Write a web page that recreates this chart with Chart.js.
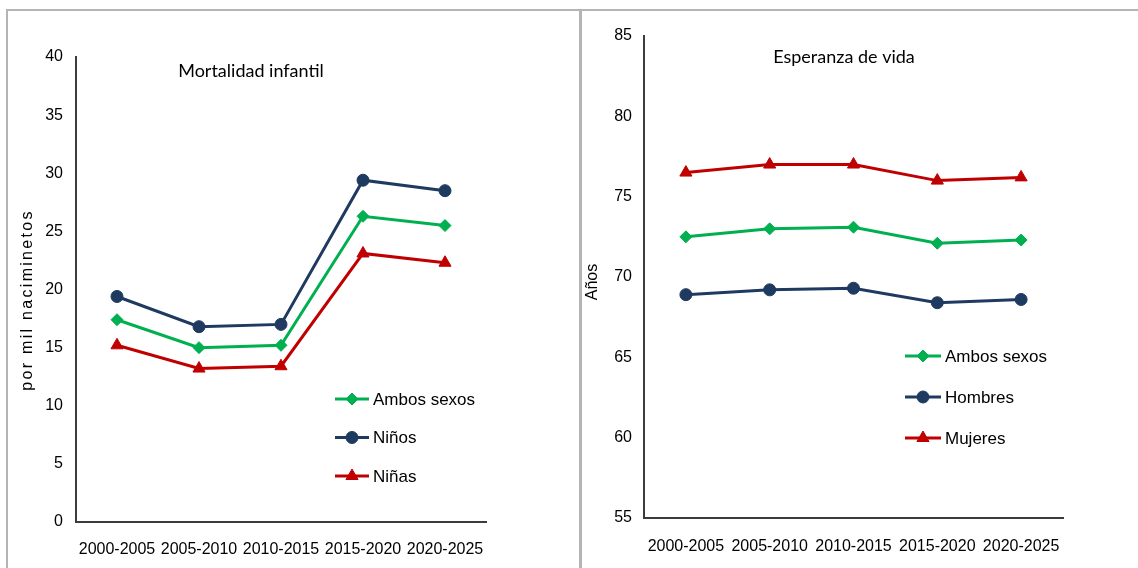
<!DOCTYPE html>
<html>
<head>
<meta charset="utf-8">
<script src="https://cdn.jsdelivr.net/npm/chart.js@4/dist/chart.umd.min.js"></script>
<style>
  body { margin: 0; background: #fff; width: 1138px; height: 568px; overflow: hidden; position: relative; }
  .panel { position: absolute; box-sizing: border-box; border: 2px solid #b4b4b4; }
  #leftPanel { left: 6px; top: 9px; width: 576px; height: 580px; }
  #rightPanel { left: 579px; top: 9px; width: 580px; height: 580px; }
  .box { position: absolute; }
  #leftBox { left: 8px; top: 11px; width: 570px; height: 557px; }
  #rightBox { left: 581px; top: 11px; width: 557px; height: 557px; }
</style>
</head>
<body>
<div class="panel" id="leftPanel"></div>
<div class="panel" id="rightPanel"></div>
<div class="box" id="leftBox"><canvas id="mortChart"></canvas></div>
<div class="box" id="rightBox"><canvas id="vidaChart"></canvas></div>
<script>
const periods = ['2000-2005', '2005-2010', '2010-2015', '2015-2020', '2020-2025'];

// Mortalidad infantil (por mil nacimientos)
const mortAmbos = [17.4, 15.0, 15.2, 26.3, 25.5];
const mortNinos = [19.4, 16.8, 17.0, 29.4, 28.5];
const mortNinas = [15.2, 13.2, 13.4, 23.1, 22.3];

// Esperanza de vida (años)
const vidaAmbos = [72.5, 73.0, 73.1, 72.1, 72.3];
const vidaHombres = [68.9, 69.2, 69.3, 68.4, 68.6];
const vidaMujeres = [76.5, 77.0, 77.0, 76.0, 76.2];

const GREEN = '#00b050';
const NAVY = '#1f3a60';
const RED = '#c00000';
const AXIS = '#3c3c3c';
const FONT = "'Liberation Sans', Arial, sans-serif";

function series(label, data, color, style, radius) {
    return {
        label: label,
        data: data,
        borderColor: color,
        backgroundColor: color,
        pointBackgroundColor: color,
        pointBorderColor: color,
        borderWidth: 3,
        pointStyle: style,
        pointRadius: radius,
        pointBorderWidth: 1,
        tension: 0
    };
}

// titles, axis title and line+marker legend drawn from the datasets
const panelText = {
    id: 'panelText',
    afterDraw(chart, args, opts) {
        const ctx = chart.ctx;
        ctx.save();
        ctx.fillStyle = '#000';
        ctx.textAlign = 'center';
        ctx.textBaseline = 'middle';
        ctx.font = opts.titleFont;
        ctx.fillText(opts.title, opts.titleX, opts.titleY);

        ctx.save();
        ctx.translate(opts.yTitleX, opts.yTitleY);
        ctx.rotate(-Math.PI / 2);
        ctx.font = '16px ' + FONT;
        ctx.letterSpacing = opts.yTitleSpacing || '0px';
        ctx.fillText(opts.yTitle, 0, 0);
        ctx.restore();

        ctx.font = '17px ' + FONT;
        ctx.textAlign = 'left';
        chart.data.datasets.forEach((ds, i) => {
            const y = opts.legendY + i * opts.legendGap;
            ctx.strokeStyle = ds.borderColor;
            ctx.lineWidth = ds.borderWidth;
            ctx.beginPath();
            ctx.moveTo(opts.legendX1, y);
            ctx.lineTo(opts.legendX2, y);
            ctx.stroke();
            ctx.fillStyle = ds.pointBackgroundColor;
            ctx.lineWidth = 1;
            Chart.helpers.drawPoint(ctx, {
                pointStyle: ds.pointStyle, radius: ds.pointRadius, rotation: 0, borderWidth: 1
            }, (opts.legendX1 + opts.legendX2) / 2, y);
            ctx.fillStyle = '#000';
            ctx.fillText(ds.label, opts.legendX2 + 4, y + 1);
        });
        ctx.restore();
    }
};

function makeChart(id, datasets, yMin, yMax, layout, text) {
    return new Chart(document.getElementById(id), {
        type: 'line',
        data: { labels: periods, datasets: datasets },
        plugins: [panelText],
        options: {
            responsive: true,
            maintainAspectRatio: false,
            animation: false,
            layout: { padding: layout.padding },
            plugins: {
                legend: { display: false },
                tooltip: { enabled: false },
                panelText: text
            },
            scales: {
                x: {
                    offset: true,
                    grid: { display: false },
                    border: { display: true, color: AXIS, width: 2 },
                    ticks: { color: '#000', font: { family: FONT, size: 16 }, padding: layout.xPad, maxRotation: 0 },
                    afterFit: s => { s.height = layout.xHeight; }
                },
                y: {
                    min: yMin,
                    max: yMax,
                    grid: { display: false },
                    border: { display: true, color: AXIS, width: 2 },
                    ticks: { stepSize: 5, color: '#000', font: { family: FONT, size: 16 }, padding: layout.yPad },
                    afterFit: s => { s.width = layout.yWidth; }
                }
            }
        }
    });
}

makeChart('mortChart', [
    series('Ambos sexos', mortAmbos, GREEN, 'rectRot', 6),
    series('Niños', mortNinos, NAVY, 'circle', 6),
    series('Niñas', mortNinas, RED, 'triangle', 7)
], 0, 40,
    { padding: { left: 0, top: 46, right: 92, bottom: 0 }, xHeight: 46, yWidth: 68, xPad: 10, yPad: 5 },
    {
        title: 'Mortalidad infantil', titleFont: "18px 'Liberation Sans Narrow', Lato, sans-serif",
        titleX: 243, titleY: 60,
        yTitle: 'por mil naciminetos', yTitleX: 20, yTitleY: 289, yTitleSpacing: '2.3px',
        legendX1: 327, legendX2: 361, legendY: 388, legendGap: 38.5
    });

makeChart('vidaChart', [
    series('Ambos sexos', vidaAmbos, GREEN, 'rectRot', 6),
    series('Hombres', vidaHombres, NAVY, 'circle', 6),
    series('Mujeres', vidaMujeres, RED, 'triangle', 7)
], 55, 85,
    { padding: { left: 0, top: 25, right: 75, bottom: 0 }, xHeight: 50, yWidth: 63, xPad: 11, yPad: 4 },
    {
        title: 'Esperanza de vida', titleFont: "18px 'Liberation Sans Narrow', Lato, sans-serif",
        titleX: 263, titleY: 46,
        yTitle: 'Años', yTitleX: 12, yTitleY: 271,
        legendX1: 324, legendX2: 360, legendY: 345, legendGap: 41
    });
</script>
</body>
</html>
